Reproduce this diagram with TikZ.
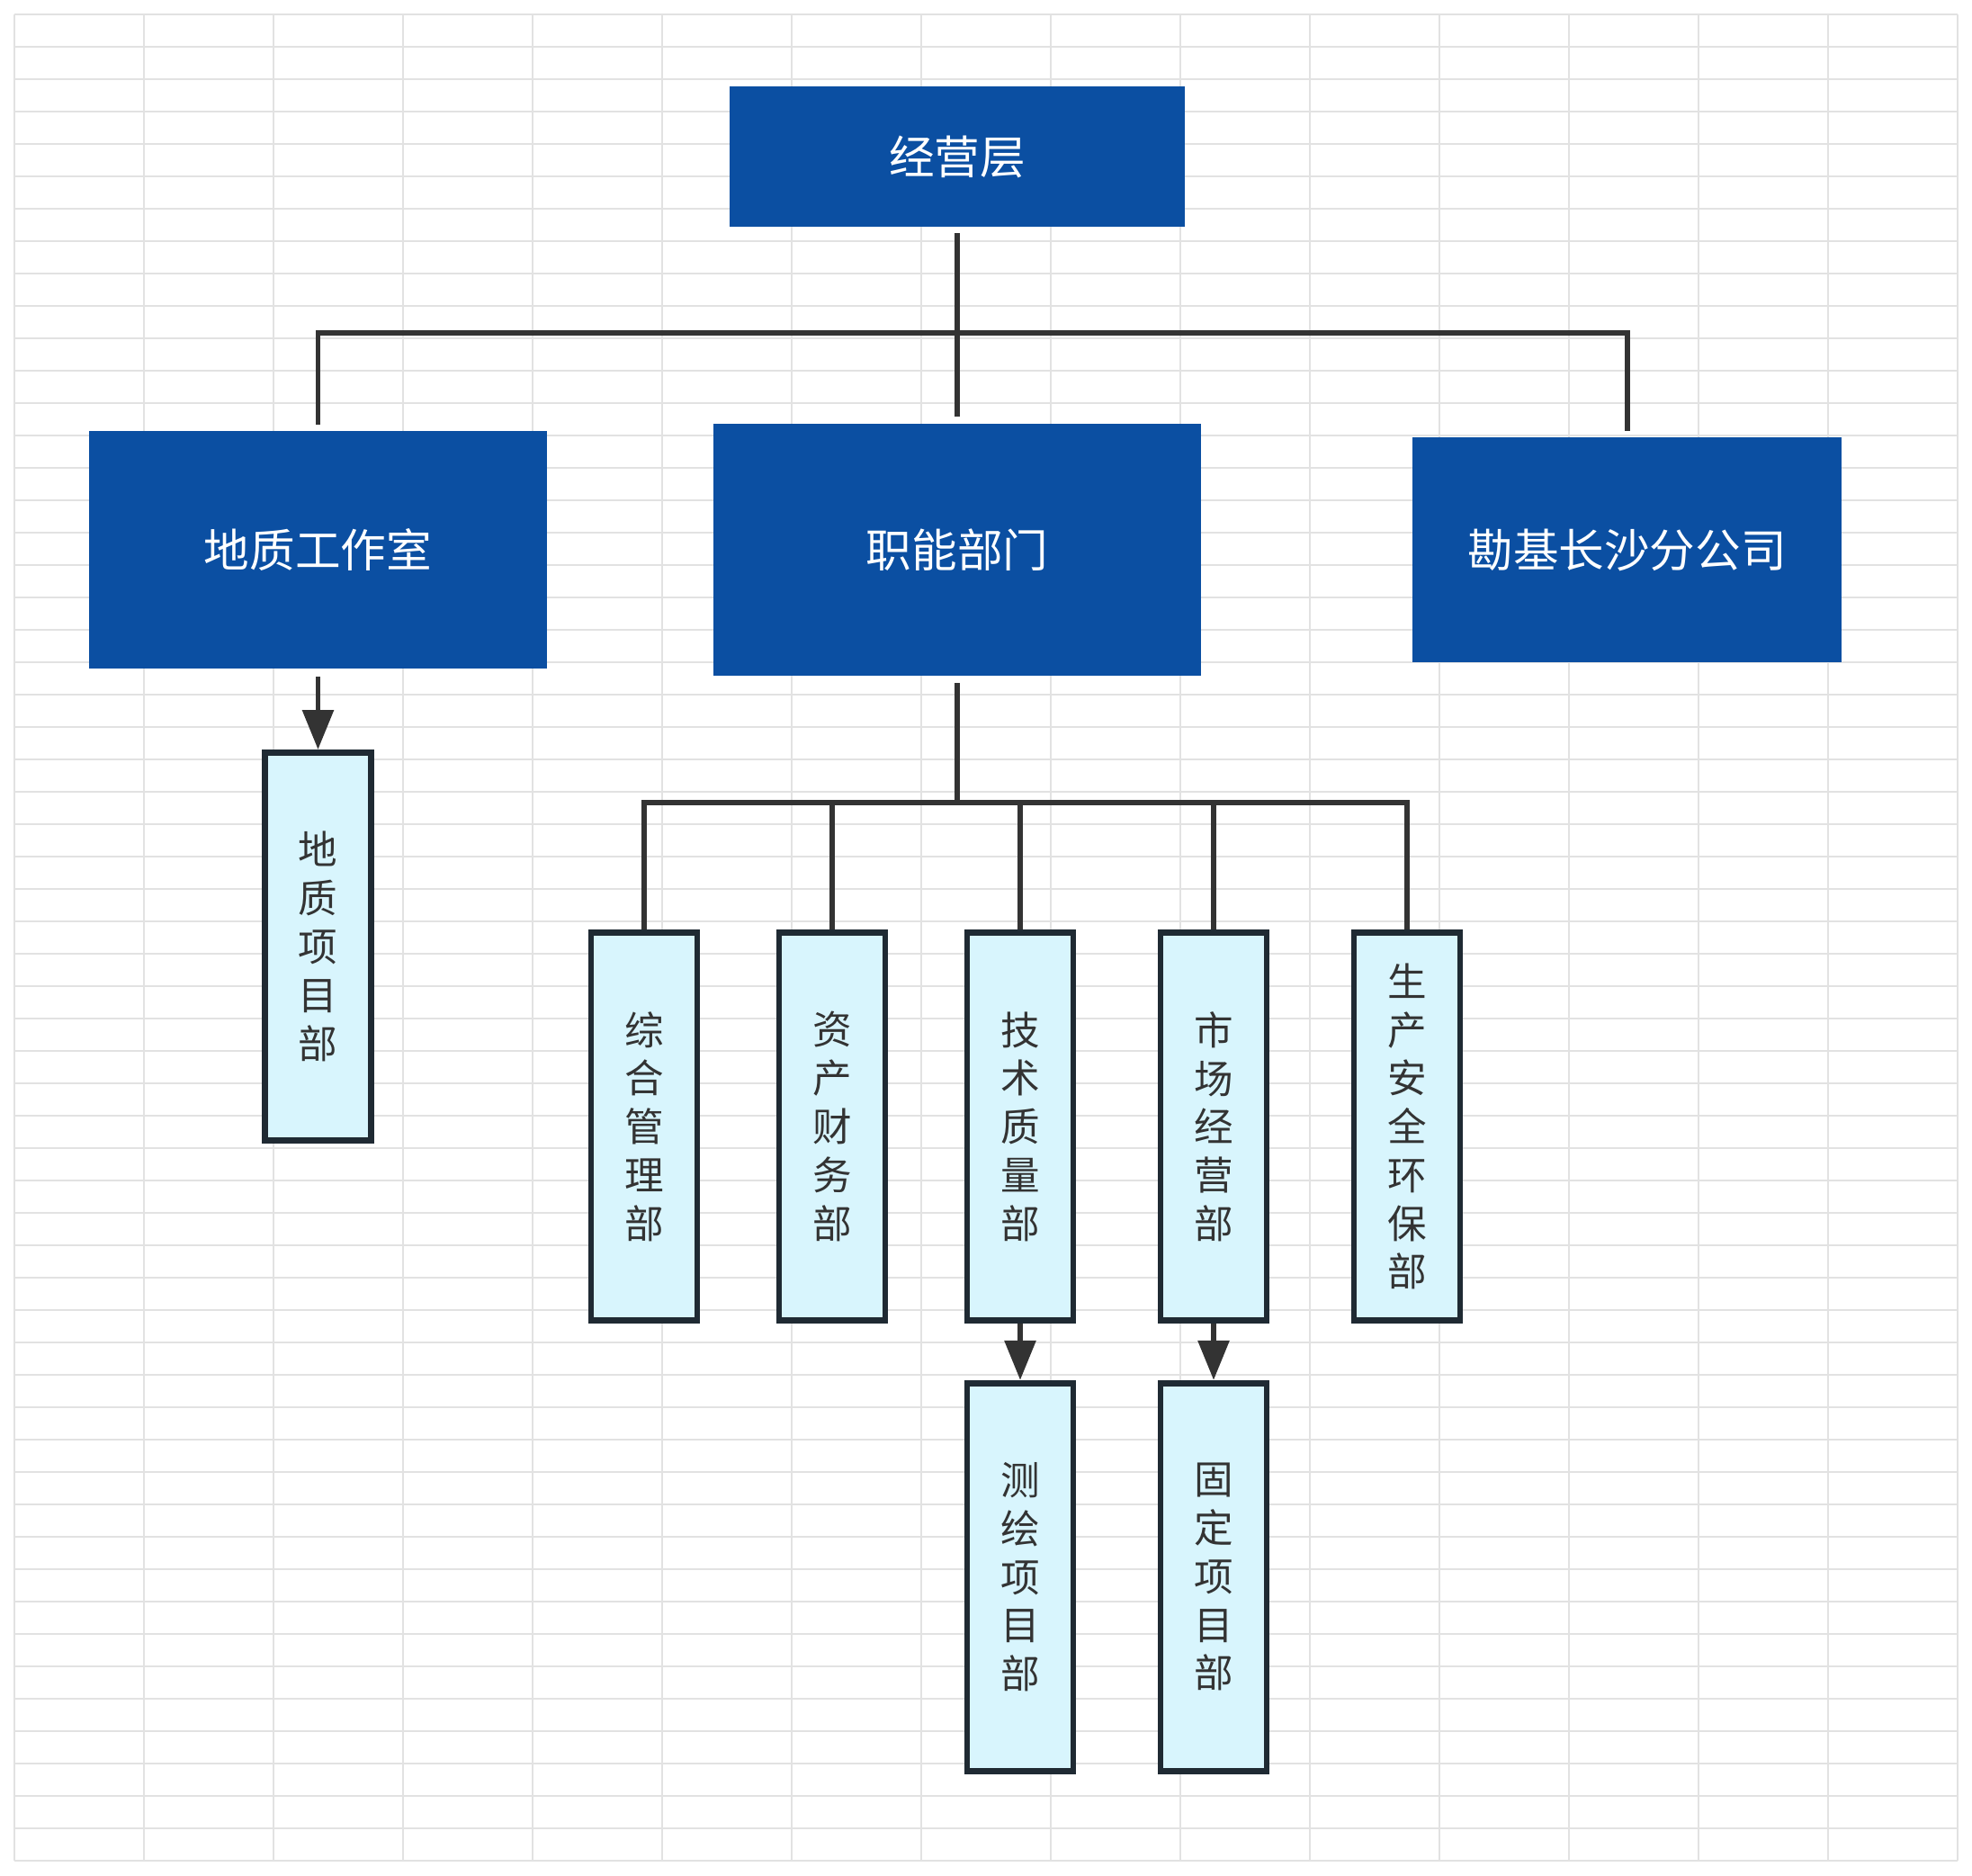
\documentclass[tikz,border=0pt]{standalone}
\usepackage{fontspec}
\usepackage{xcolor}
\usepackage{tikz}
\usetikzlibrary{arrows.meta, positioning, calc}
\newfontfamily\cjk{Noto Sans CJK SC}
\definecolor{headblue}{HTML}{0B4FA2}
\definecolor{deptfill}{HTML}{D8F5FD}
\definecolor{deptline}{HTML}{1F2A33}
\definecolor{linkgray}{HTML}{333333}
\definecolor{gridgray}{HTML}{E2E2E2}
\tikzset{
  head/.style={rectangle, draw=none, fill=headblue, text=white, align=center, inner sep=0pt, outer sep=0pt, font=\cjk\fontsize{14.4}{17}\selectfont},
  dept/.style={rectangle, draw=deptline, line width=1.9pt, fill=deptfill, text=linkgray, minimum width=1.18cm, minimum height=4.31cm, align=center, inner sep=0pt, font=\cjk\fontsize{12.4}{15.3}\selectfont},
  link/.style={draw=linkgray, line width=1.7pt},
  arrow/.style={link, -{Triangle[length=0.44cm, width=0.34cm]}},
  gridline/.style={draw=gridgray, line width=0.6pt},
}

\begin{document}
\begin{tikzpicture}
\useasboundingbox (0,0) rectangle (21.92,-20.84);
\fill[white] (0,0) rectangle (21.92,-20.84);
% background grid
\foreach \i in {0,...,15} \draw[gridline] ({0.16+1.44*\i},-0.16) -- ++(0,-20.52);
\foreach \j in {0,...,57} \draw[gridline] (0.16,{-0.16-0.36*\j}) -- ++(21.6,0);

\node[head, minimum width=5.06cm, minimum height=1.56cm] (top) at (10.64,-1.74) {经营层};
\node[head, minimum width=5.42cm, minimum height=2.80cm, below=2.19cm of top] (func) {职能部门};
\node[head, minimum width=5.09cm, minimum height=2.64cm, left=1.85cm of func] (geo) {地质工作室};
\node[head, minimum width=4.77cm, minimum height=2.50cm, right=2.35cm of func] (branch) {勘基长沙分公司};

\node[dept, below=0.90cm of geo] (geoproj) {地\\质\\项\\目\\部};
\node[dept] (zonghe) at (7.16,-12.52) {综\\合\\管\\理\\部};
\node[dept] (zichan) at (9.25,-12.52) {资\\产\\财\\务\\部};
\node[dept] (jishu) at (11.34,-12.52) {技\\术\\质\\量\\部};
\node[dept] (shichang) at (13.49,-12.52) {市\\场\\经\\营\\部};
\node[dept] (anquan) at (15.64,-12.52) {生\\产\\安\\全\\环\\保\\部};
\node[dept, below=0.63cm of jishu] (cehui) {测\\绘\\项\\目\\部};
\node[dept, below=0.63cm of shichang] (guding) {固\\定\\项\\目\\部};

\coordinate (busA) at (10.64,-3.70);
\coordinate (busB) at (10.64,-8.92);

\draw[link, shorten <=0.07cm, shorten >=0.08cm] (top) -- (func);
\draw[link, shorten <=0.07cm, shorten >=0.07cm] (geo) |- (busA) -| (branch);
\draw[link, shorten <=0.08cm] (func) -- (busB);
\foreach \d in {zonghe,zichan,jishu,shichang,anquan} \draw[link] (busB) -| (\d);
\draw[arrow, shorten <=0.09cm] (geo) -- (geoproj);
\draw[arrow] (jishu) -- (cehui);
\draw[arrow] (shichang) -- (guding);
\end{tikzpicture}
\end{document}
